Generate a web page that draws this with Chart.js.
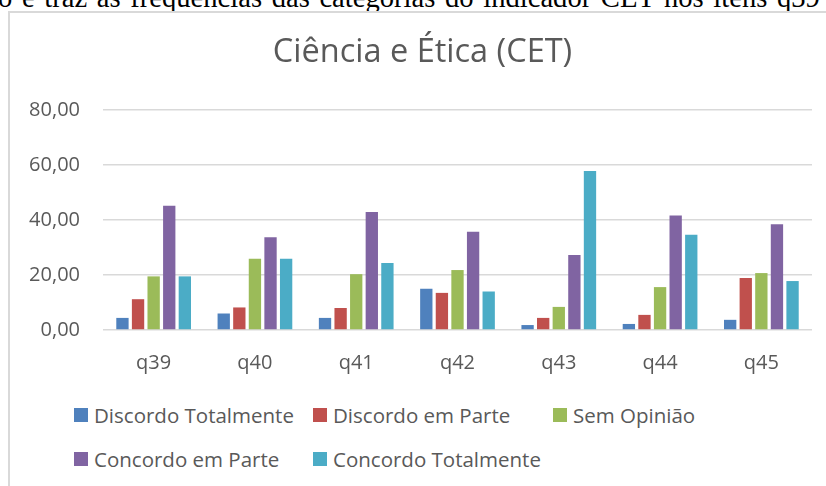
<!DOCTYPE html>
<html lang="pt">
<head>
<meta charset="utf-8">
<title>Ciência e Ética (CET)</title>
<script src="https://cdn.jsdelivr.net/npm/chart.js@4/dist/chart.umd.min.js"></script>
<style>
  body {
    margin: 0;
    width: 826px;
    height: 486px;
    overflow: hidden;
    background: #fff;
    position: relative;
    font-family: "Open Sans", sans-serif;
  }
  .intro {
    position: absolute;
    left: -2px;
    top: -17px;
    line-height: 29px;
    font-family: "Liberation Serif", "Times New Roman", serif;
    font-size: 28.6px;
    word-spacing: 2.5px;
    white-space: nowrap;
    color: #000;
  }
  .frame {
    position: absolute;
    left: 8px;
    top: 11px;
    width: 840px;
    height: 500px;
    border-top: 2px solid #d9d9d9;
    border-left: 2px solid #d9d9d9;
  }
  #chartWrap {
    position: absolute;
    left: 0;
    top: 0;
    width: 826px;
    height: 380px;
  }
  .legend-item {
    position: absolute;
    height: 28px;
    display: flex;
    align-items: center;
    font-size: 20.5px;
    color: #595959;
    white-space: nowrap;
  }
  .legend-box {
    width: 14px;
    height: 14px;
    margin-right: 6px;
  }
</style>
</head>
<body>
<div class="intro">o e traz as frequências das categorias do indicador CET nos itens q39 a q45</div>
<div class="frame"></div>
<div id="chartWrap"><canvas id="cetChart" width="826" height="380"></canvas></div>
<div id="legend"></div>

<script>
// itens do indicador
const categories = ['q39', 'q40', 'q41', 'q42', 'q43', 'q44', 'q45'];

// frequências (%) por categoria de resposta
const discordoTotalmente = [4.4, 6.0, 4.4, 15.0, 1.8, 2.2, 3.7];
const discordoEmParte = [11.2, 8.2, 8.0, 13.5, 4.4, 5.5, 18.9];
const semOpiniao = [19.5, 25.9, 20.3, 21.8, 8.4, 15.6, 20.7];
const concordoEmParte = [45.2, 33.7, 42.9, 35.7, 27.3, 41.6, 38.5];
const concordoTotalmente = [19.5, 25.9, 24.4, 14.0, 57.8, 34.6, 17.8];

const seriesNames = ['Discordo Totalmente', 'Discordo em Parte', 'Sem Opinião', 'Concordo em Parte', 'Concordo Totalmente'];
const seriesColors = ['#4F81BD', '#C0504D', '#9BBB59', '#8064A2', '#4BACC6'];
const yTicks = [0, 20, 40, 60, 80];
const chartTitle = 'Ciência e Ética (CET)';

const textColor = '#595959';
const tickFont = { family: 'Open Sans', size: 20 };

const seriesValues = [discordoTotalmente, discordoEmParte, semOpiniao, concordoEmParte, concordoTotalmente];

const datasets = seriesNames.map((name, i) => ({
    label: name,
    data: seriesValues[i],
    backgroundColor: seriesColors[i],
    borderWidth: 0,
    barPercentage: 0.79,
    categoryPercentage: 0.77
}));

// título centrado na moldura (o do Chart.js centra só na área com padding)
const frameTitle = {
    id: 'frameTitle',
    afterDraw(chart) {
        const ctx = chart.ctx;
        ctx.save();
        ctx.font = 'normal 32.5px "Open Sans"';
        ctx.fillStyle = textColor;
        ctx.textAlign = 'center';
        ctx.textBaseline = 'alphabetic';
        ctx.fillText(chartTitle, 422.5, 62);
        ctx.restore();
    }
};

new Chart(document.getElementById('cetChart'), {
    type: 'bar',
    data: { labels: categories, datasets: datasets },
    plugins: [frameTitle],
    options: {
        responsive: false,
        animation: false,
        layout: { padding: { left: 0, right: 14, top: 110, bottom: 0 } },
        plugins: {
            legend: { display: false },
            tooltip: { enabled: false },
            title: { display: false }
        },
        scales: {
            x: {
                grid: { display: false, drawTicks: false },
                border: { display: false },
                ticks: { color: textColor, font: tickFont, padding: 21 },
                afterFit(scale) { scale.height = 50; }
            },
            y: {
                min: yTicks[0],
                max: yTicks[yTicks.length - 1],
                afterBuildTicks(scale) {
                    scale.ticks = yTicks.map(v => ({ value: v }));
                },
                ticks: {
                    color: textColor,
                    font: tickFont,
                    padding: 23,
                    callback: (v) => Number(v).toFixed(2).replace('.', ',')
                },
                grid: { color: '#d9d9d9', lineWidth: 1.5, drawTicks: false },
                border: { display: false },
                afterFit(scale) { scale.width = 103; }
            }
        }
    }
});

// legenda em grade, como no Excel
const legendCols = [74, 313, 553];
const legendRows = [401, 445];
const legendEl = document.getElementById('legend');
legendEl.innerHTML = seriesNames.map((name, i) => {
    const col = legendCols[i % 3];
    const row = legendRows[Math.floor(i / 3)];
    return `
        <div class="legend-item" style="left:${col}px; top:${row}px;">
            <span class="legend-box" style="background:${seriesColors[i]}"></span>
            <span>${name}</span>
        </div>`;
}).join('');
</script>
</body>
</html>
